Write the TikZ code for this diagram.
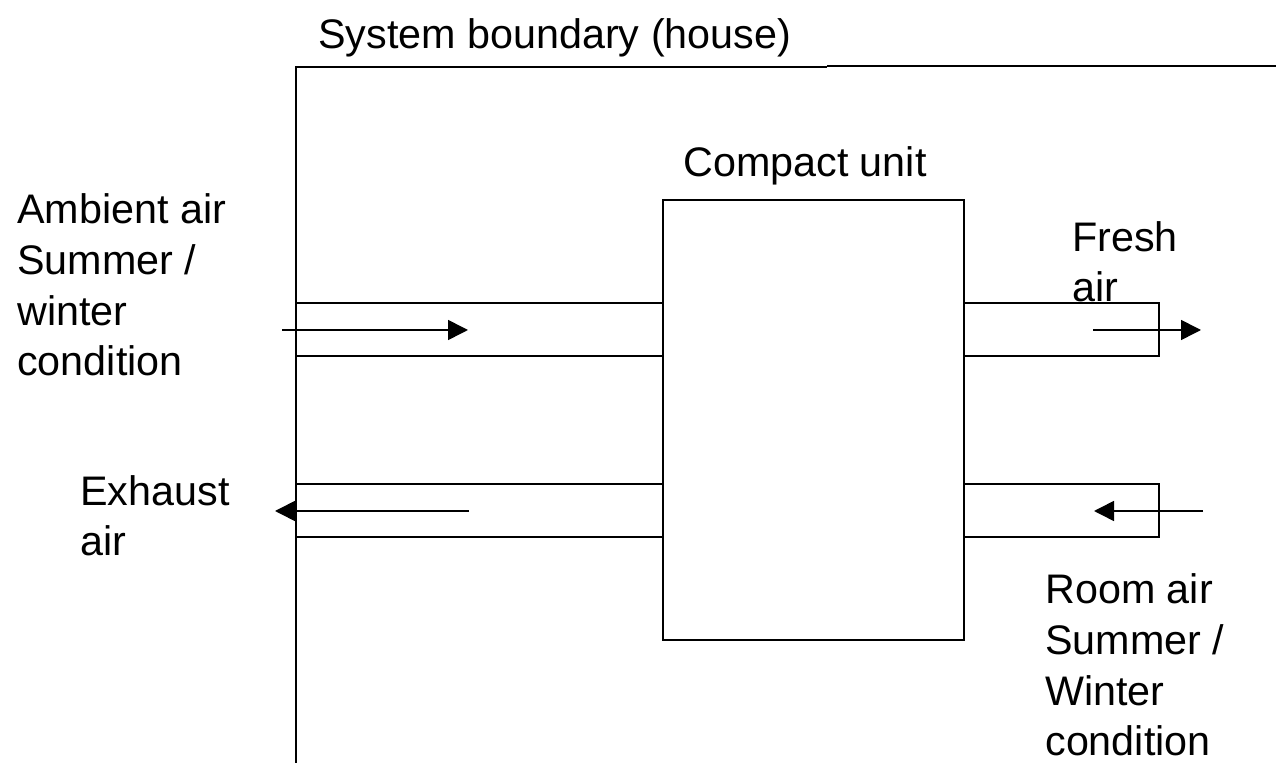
\documentclass[tikz,border=0pt]{standalone}
\usepackage{fontspec}
\setmainfont{Liberation Sans}
\usetikzlibrary{arrows.meta, positioning}

\begin{document}
\begin{tikzpicture}[
    x=0.02cm, y=-0.02cm,
    txt/.style={font=\fontsize{23.5}{29}\selectfont, inner sep=0pt, anchor=base west, align=left},
    unitbox/.style={draw, line width=1.2pt, minimum width=6.02cm, minimum height=8.8cm, inner sep=0pt},
    duct/.style={draw, line width=0.9pt, inner sep=0pt, minimum height=1.06cm},
    flow/.style={-{Triangle[length=0.4cm, width=0.4cm]}, line width=0.9pt},
    wall/.style={line width=0.9pt}
]
\useasboundingbox (0,0) rectangle (1276,763);

% system boundary
\coordinate (bcorner) at (296,67);
\coordinate (bbottom) at (296,763);
\coordinate (bmid) at (827,67);
\coordinate (bright) at (1276,66);
\draw[wall] (bbottom) -- (bcorner) -- (bmid);
\draw[line width=1.3pt] (bmid |- bright) -- (bright);
\node[txt] (boundary) at (318,49) {System boundary (house)};

% compact unit
\node[unitbox] (unit) at (813.5,420) {};
\node[txt] (unitlabel) at (683,177) {Compact unit};

% ducts
\node[duct, minimum width=7.34cm] (intake) at (479.5,329.5) {};
\node[duct, minimum width=7.34cm] (exhaust) at (479.5,510.5) {};
\node[duct, minimum width=3.9cm] (supply) at (1061.5,329.5) {};
\node[duct, minimum width=3.9cm] (extract) at (1061.5,510.5) {};

% flows
\coordinate (ambin) at (282,330);
\coordinate (ambtip) at (468,330);
\coordinate (exhin) at (469,511);
\coordinate (exhtip) at (275,511);
\coordinate (frin) at (1093,330);
\coordinate (frtip) at (1201,330);
\coordinate (rmin) at (1203,511);
\coordinate (rmtip) at (1094,511);
\draw[flow] (ambin) -- (ambtip);
\draw[flow] (exhin) -- (exhtip);
\draw[flow] (frin) -- (frtip);
\draw[flow] (rmin) -- (rmtip);

% labels (anchored at the last line)
\node[txt] (ambient) at (17,376) {Ambient air\\Summer /\\winter\\condition};
\node[txt] (exhaustlabel) at (80,556) {Exhaust\\air};
\node[txt] (fresh) at (1072,302) {Fresh\\air};
\node[txt] (room) at (1045,756) {Room air\\Summer /\\Winter\\condition};
\end{tikzpicture}
\end{document}
